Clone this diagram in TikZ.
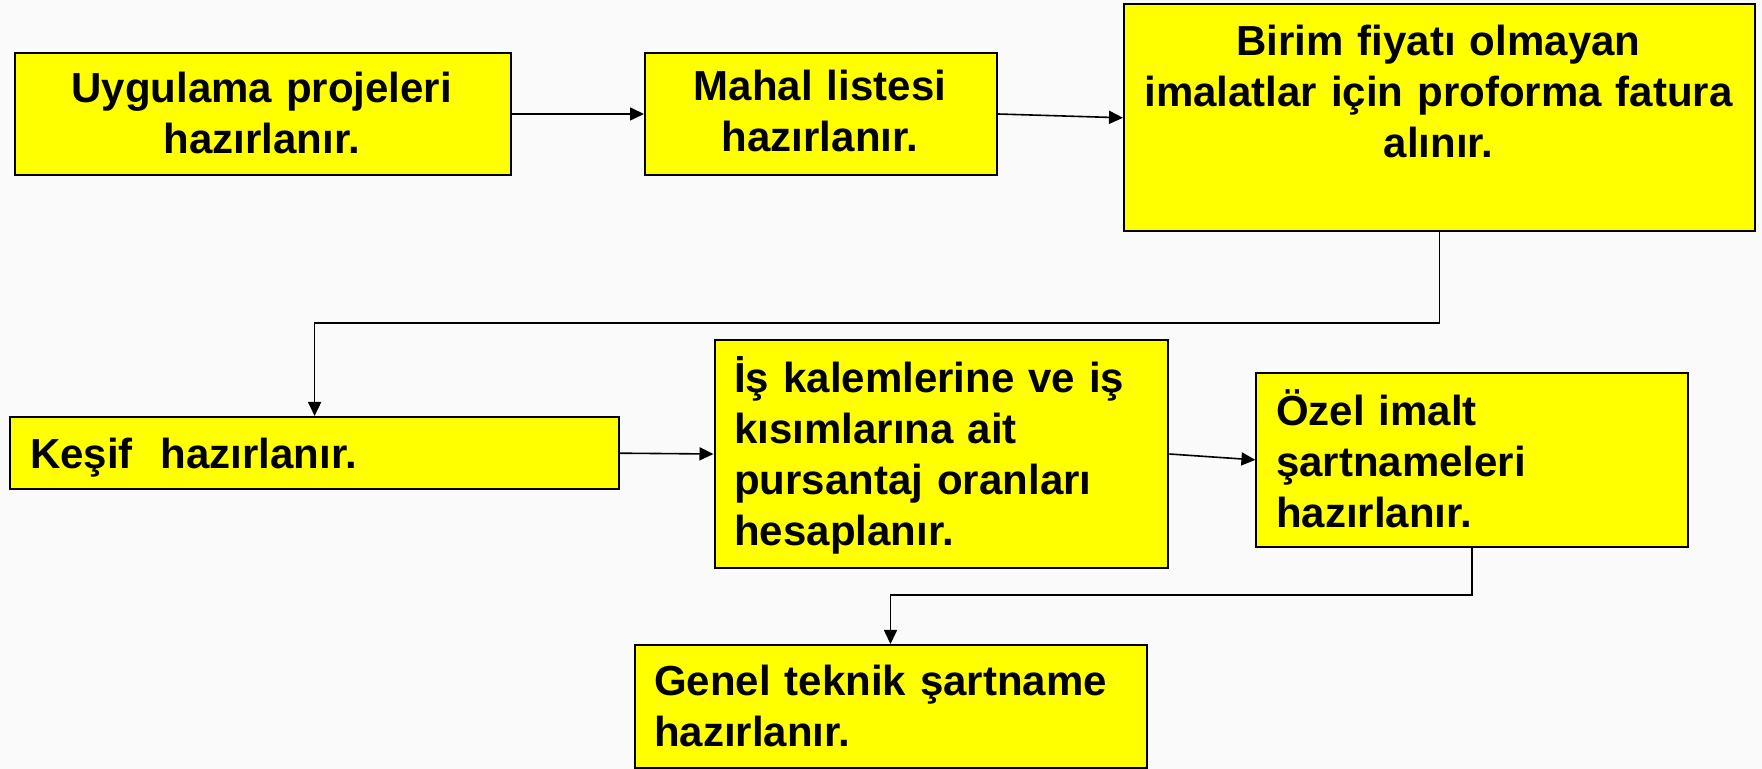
\documentclass[tikz,border=0pt]{standalone}
\usepackage{fontspec}
\setmainfont{Liberation Sans}
\usetikzlibrary{arrows.meta,calc}
\definecolor{bg}{HTML}{FAFAFA}
\definecolor{boxyellow}{HTML}{FFFF00}
\begin{document}
\begin{tikzpicture}[x=0.5pt,y=-0.5pt,
  box/.style={draw=black,line width=1pt,fill=boxyellow,inner sep=0pt,anchor=north west},
  txt/.style={inner sep=0pt,font=\bfseries\fontsize{21}{25.5}\selectfont},
  ctxt/.style={txt,anchor=base,align=center},
  ltxt/.style={txt,anchor=base west,align=left},
  link/.style={line width=0.8pt,-{Triangle[length=7pt,width=6.5pt]}}]
\useasboundingbox (0,0) rectangle (1762,769);
\fill[bg] (0,0) rectangle (1762,769);

% boxes
\node[box,minimum width=248pt,minimum height=61.3pt] (b1) at (13.8,51.7) {};
\node[box,minimum width=175.9pt,minimum height=61.3pt] (b2) at (644,51.7) {};
\node[box,minimum width=315.5pt,minimum height=113.3pt] (b3) at (1123,3.5) {};
\node[box,minimum width=304.4pt,minimum height=36.2pt] (b4) at (9.2,416) {};
\node[box,minimum width=226.9pt,minimum height=113.7pt] (b5) at (713.5,339.3) {};
\node[box,minimum width=215.7pt,minimum height=87.2pt] (b6) at (1255.4,371.7) {};
\node[box,minimum width=256pt,minimum height=61.4pt] (b7) at (633.5,644) {};

% texts
\node[ctxt,text width=240pt] (t1) at (261.7,102.5) {Uygulama projeleri\\hazırlanır.};
\node[ctxt,text width=170pt] (t2) at (820,101) {Mahal listesi\\hazırlanır.};
\node[ctxt,text width=310pt] (t3) at (1438.5,55.5) {Birim fiyatı olmayan\\imalatlar için proforma fatura\\alınır.};
\node[ltxt,text width=280pt] (t4) at (29.8,468.3) {Keşif\ \ hazırlanır.};
\node[ltxt,text width=215pt] (t5) at (733.9,393) {İş kalemlerine ve iş\\kısımlarına ait\\pursantaj oranları\\hesaplanır.};
\node[ltxt,text width=200pt] (t6) at (1275.7,426) {Özel imalt\\şartnameleri\\hazırlanır.};
\node[ltxt,text width=245pt] (t7) at (653.6,695.5) {Genel teknik şartname\\hazırlanır.};

% connector bends
\coordinate (c1) at (0,323);
\coordinate (c2) at (0,595);

% connectors
\draw[link] (b1.east) -- (b2.west);
\draw[link] (b2.east) -- (b3.west);
\draw[link] (b3.south) -- (b3.south |- c1) -| (b4.north);
\draw[link] (b4.east) -- (b5.west);
\draw[link] (b5.east) -- (b6.west);
\draw[link] (b6.south) -- (b6.south |- c2) -| (b7.north);
\end{tikzpicture}
\end{document}
